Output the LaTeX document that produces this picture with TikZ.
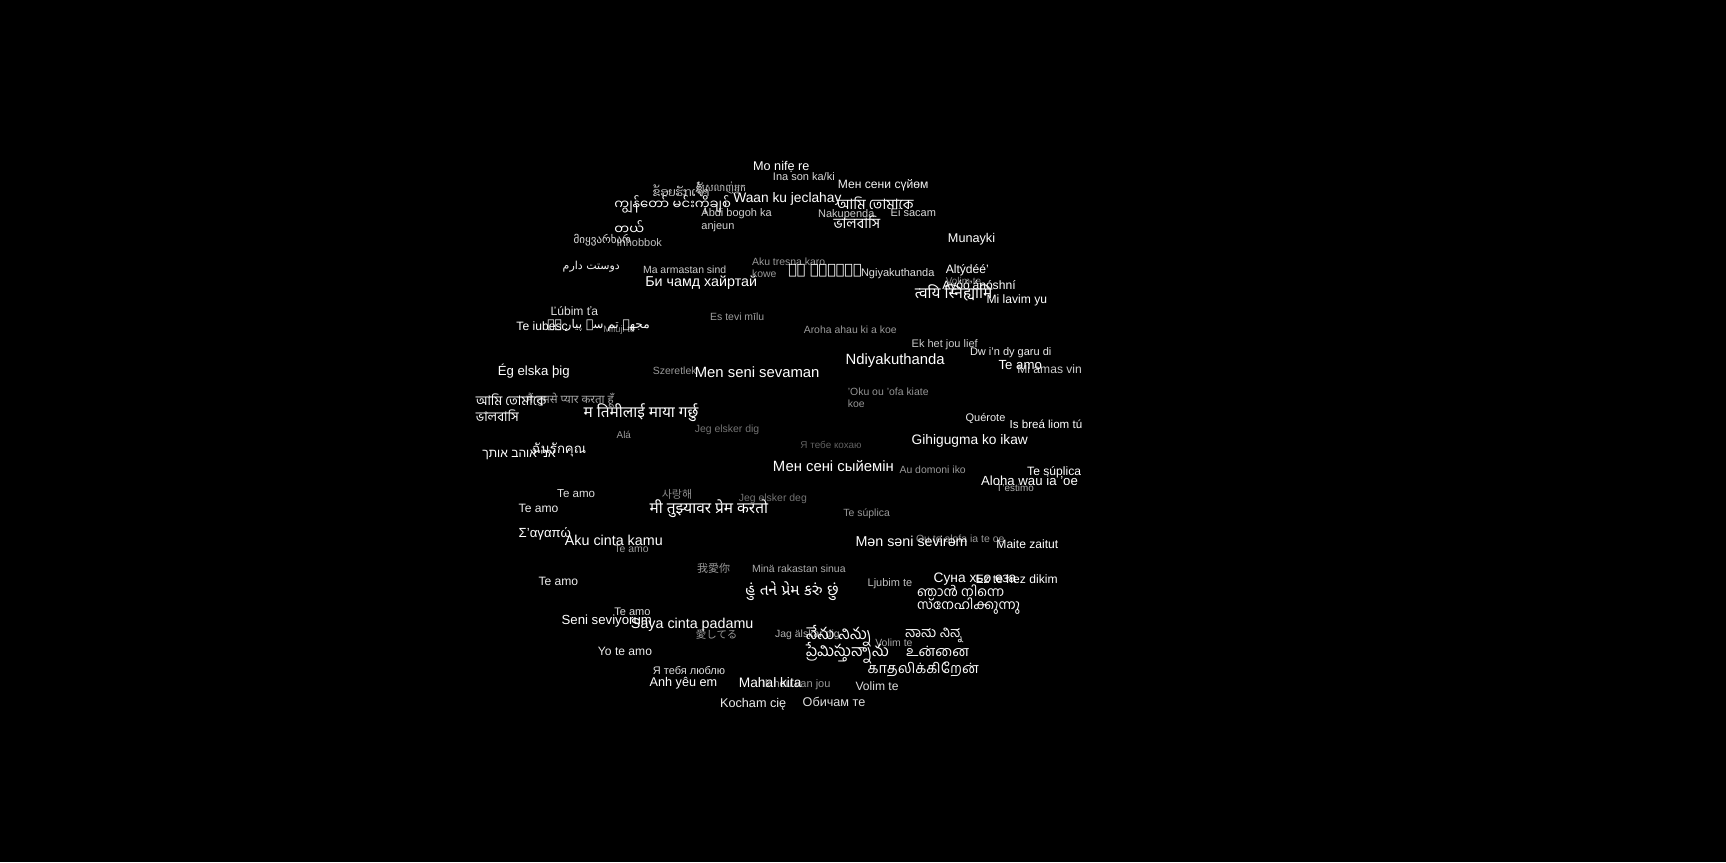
\documentclass[tikz,border=0pt]{standalone}
\usepackage{fontspec}
\setmainfont{Liberation Sans}
\newfontfamily\fBeng[Script=Bengali]{Hind Siliguri}
\newfontfamily\fDeva[Script=Devanagari]{Noto Sans}
\newfontfamily\fGujr[Script=Gujarati]{Noto Sans Gujarati UI}
\newfontfamily\fTaml[Script=Tamil]{Hind Madurai}
\newfontfamily\fTelu[Script=Telugu]{Hind Guntur}
\newfontfamily\fKnda[Script=Kannada]{Hind Mysuru}
\newfontfamily\fMlym[Script=Malayalam]{Hind Kochi}
\newfontfamily\fThai[Script=Thai]{Loma}
\newfontfamily\fLaoo[Script=Lao]{Dhyana}
\newfontfamily\fKhmr[Script=Khmer]{Battambang}
\newfontfamily\fMymr[Script=Myanmar]{Noto Sans Myanmar UI}
\newfontfamily\fHebr[Script=Hebrew]{Liberation Sans}
\newfontfamily\fArab[Script=Arabic]{DejaVu Sans}
\newfontfamily\fGeor{DejaVu Sans}
\newfontfamily\fCJK{Noto Sans CJK SC}
\newfontfamily\fEthi{DejaVu Sans}
\TeXXeTstate=1
\newcommand\wsz[1]{\fontsize{#1}{#1}\selectfont}
\tikzset{wd/.style 2 args={anchor=west,inner sep=0pt,text=white!#1!black,font=\wsz{#2}}}

\begin{document}
\begin{tikzpicture}[x=1pt,y=-1pt,scale=1.1008,every node/.append style={transform shape}]
  \useasboundingbox (0,0) rectangle (1568,783.1);
  \fill[black] (0,0) rectangle (1568,783.1);
  % faint words underneath
  \node[wd={80}{9}] (km) at (632,172) {\fKhmr ខ្ញុំស្រលាញ់អ្នក};
  \node[wd={75}{10}] (mt) at (560,220) {Inħobbok};
  \node[wd={55}{9}] (bs) at (859,255) {Volim te};
  \node[wd={55}{8.5}] (cs) at (548,300) {Miluji tě};
  \node[wd={80}{11}] (eo) at (924,335) {Mi amas vin};
  \node[wd={65}{10.5}] (hi) at (478,364) {\fDeva मैं तुमसे प्यार करता हूँ};
  \node[wd={70}{9}] (ca) at (905,443) {T'estimo};
  \node[wd={60}{9.5}] (sm) at (832,489) {Ou te alofa ia te oe};
  \node[wd={60}{10}] (nl) at (692,622) {Ik hou van jou};
  \node[wd={60}{9.5}] (ja) at (632,576) {\fCJK 愛してる};
  \node[wd={70}{9.5}] (sv) at (704,577) {Jag älskar dig};
  \node[wd={65}{9.5}] (hr) at (795,584) {Volim te};
  % top
  \node[wd={100}{11.5}] (yo) at (684,152) {Mo nifẹ re};
  \node[wd={85}{10}] (ha) at (702,160) {Ina son ka/ki};
  \node[wd={95}{11}] (ky) at (761,168) {Мен сени сүйөм};
  \node[wd={90}{10.5}] (lo) at (593,172) {\fLaoo ຂ້ອຍຮັກເຈົ້າ};
  \node[wd={100}{12}] (my1) at (558,186) {\fMymr ကျွန်တော် မင်းကိုချစ်};
  \node[wd={100}{12}] (my2) at (558,207) {\fMymr တယ်};
  \node[wd={100}{12.5}] (so) at (666,181) {Waan ku jeclahay};
  \node[wd={80}{10}] (sw) at (743,195) {Nakupenda};
  \node[wd={85}{10}] (mk) at (809,193) {Ei sacam};
  \node[wd={100}{13}] (bn1) at (760,185) {\fBeng আমি তোমাকে};
  \node[wd={100}{13}] (bn2) at (757,202) {\fBeng ভালবাসি};
  \node[wd={82}{10}] (su1) at (637,194) {Abdi bogoh ka};
  \node[wd={82}{10}] (su2) at (637,206) {anjeun};
  \node[wd={88}{10}] (ka) at (521,218) {\fGeor მიყვარხარ};
  \node[wd={100}{11.5}] (qu) at (861,217) {Munayki};
  \node[wd={95}{10}] (fa) at (511,242) {\fArab\beginR دوستت دارم\endR};
  % upper middle
  \node[wd={80}{9.5}] (et) at (584,245) {Ma armastan sind};
  \node[wd={100}{13}] (mn) at (586,257) {Би чамд хайртай};
  \node[wd={60}{9.5}] (jv1) at (683,238) {Aku tresna karo};
  \node[wd={60}{9.5}] (jv2) at (683,249) {kowe};
  \node[wd={100}{13}] (am) at (716,246) {\fEthi እኔ እወድሃለሁ};
  \node[wd={88}{10}] (zu) at (782,249) {Ngiyakuthanda};
  \node[wd={100}{11}] (ch) at (859,246) {Altýdéé'};
  \node[wd={100}{11}] (nv) at (856,260) {Ayóó'ánóshní};
  \node[wd={100}{14}] (sa) at (831,266) {\fDeva त्वयि स्निह्यामि};
  \node[wd={100}{11}] (tp) at (896,273) {Mi lavim yu};
  \node[wd={88}{11}] (sk) at (500,283) {Ľúbim ťa};
  \node[wd={100}{11}] (ro) at (469,296) {Te iubesc};
  \node[wd={100}{11}] (ur) at (497,296) {\fArab\beginR مجھے تم سے پیار ہے\endR};
  \node[wd={62}{9.5}] (lv) at (645,288) {Es tevi mīlu};
  \node[wd={60}{9.5}] (mi) at (730,300) {Aroha ahau ki a koe};
  % middle
  \node[wd={80}{10}] (af) at (828,313) {Ek het jou lief};
  \node[wd={93}{10}] (cy) at (881,320) {Dw i'n dy garu di};
  \node[wd={100}{13.5}] (xh) at (768,328) {Ndiyakuthanda};
  \node[wd={100}{12}] (es) at (907,332) {Te amo};
  \node[wd={100}{12}] (is) at (452,337) {Ég elska þig};
  \node[wd={60}{9.5}] (hu) at (593,337) {Szeretlek};
  \node[wd={100}{13.5}] (uz) at (631,338) {Men seni sevaman};
  \node[wd={58}{9.5}] (to1) at (770,356) {'Oku ou 'ofa kiate};
  \node[wd={58}{9.5}] (to2) at (770,367) {koe};
  \node[wd={100}{12}] (bl1) at (432,363) {\fBeng আমি তোমাকে};
  \node[wd={100}{12}] (bl2) at (432,378) {\fBeng ভালবাসি};
  \node[wd={100}{14}] (ne) at (530,375) {\fDeva म तिमीलाई माया गर्छु};
  \node[wd={93}{10}] (gl) at (877,380) {Quérote};
  \node[wd={100}{10.5}] (ga) at (917,385) {Is breá liom tú};
  \node[wd={60}{9}] (yu) at (560,395) {Alá};
  \node[wd={45}{9.5}] (da) at (631,390) {Jeg elsker dig};
  \node[wd={100}{12.5}] (ceb) at (828,401) {Gihigugma ko ikaw};
  \node[wd={38}{9}] (uk) at (727,404) {Я тебе кохаю};
  \node[wd={100}{11}] (he) at (438,413) {\fHebr\beginR אני אוהב אותך\endR};
  \node[wd={100}{12}] (th) at (483,409) {\fThai ฉันรักคุณ};
  \node[wd={100}{13.5}] (kk) at (702,423) {Мен сені сыйемін};
  \node[wd={60}{9.5}] (fj) at (817,427) {Au domoni iko};
  \node[wd={100}{11}] (la) at (933,429) {Te súplica};
  \node[wd={100}{12}] (haw) at (891,437) {Aloha wau ia 'oe};
  % lower middle
  \foreach \x/\y/\g/\s in {506/448/87/10.5, 471/462/93/11, 558/499/60/9.5,
    489/528/93/11, 558/556/87/10}
    \node[wd={\g}{\s}] (amo\x\y) at (\x,\y) {Te amo};
  \node[wd={55}{10}] (ko) at (601,449) {\fCJK 사랑해};
  \node[wd={100}{14}] (mr) at (590,462) {\fDeva मी तुझ्यावर प्रेम करतो};
  \node[wd={45}{9.5}] (no) at (671,453) {Jeg elsker deg};
  \node[wd={60}{9.5}] (sup) at (766,467) {Te súplica};
  \node[wd={100}{12}] (el) at (471,485) {Σ'αγαπώ};
  \node[wd={100}{13}] (id) at (513,491) {Aku cinta kamu};
  \node[wd={100}{13}] (az) at (777,492) {Mən səni sevirəm};
  \node[wd={100}{11}] (eu) at (905,494) {Maite zaitut};
  \node[wd={60}{10}] (zh) at (633,516) {\fCJK 我愛你};
  \node[wd={68}{9.5}] (fi) at (683,517) {Minä rakastan sinua};
  \node[wd={75}{10}] (sl) at (788,530) {Ljubim te};
  \node[wd={100}{12.5}] (ce) at (848,526) {Суна хьо еза};
  \node[wd={100}{11}] (kmr) at (886,526) {Ez te hez dikim};
  \node[wd={100}{12}] (ml1) at (833,537) {\fMlym ഞാൻ നിന്നെ};
  \node[wd={100}{12}] (ml2) at (833,551) {\fMlym സ്നേഹിക്കുന്നു};
  \node[wd={100}{14}] (gu) at (677,537) {\fGujr હું તને પ્રેમ કરું છું};
  % bottom
  \node[wd={100}{12}] (tr) at (510,564) {Seni seviyorum};
  \node[wd={100}{13}] (ms) at (573,568) {Saya cinta padamu};
  \node[wd={100}{14.5}] (te1) at (732,578) {\fTelu నేను నిన్ను};
  \node[wd={100}{14.5}] (te2) at (732,593) {\fTelu ప్రేమిస్తున్నాను};
  \node[wd={100}{13}] (kn) at (822,577) {\fKnda ನಾನು ನಿನ್ನ};
  \node[wd={100}{13}] (ta1) at (823,592) {\fTaml உன்னை};
  \node[wd={100}{13}] (ta2) at (788,608) {\fTaml காதலிக்கிறேன்};
  \node[wd={93}{11}] (esm) at (543,592) {Yo te amo};
  \node[wd={87}{10}] (ru) at (593,609) {Я тебя люблю};
  \node[wd={100}{11.5}] (vi) at (590,621) {Anh yêu em};
  \node[wd={100}{12.5}] (tl) at (671,620) {Mahal kita};
  \node[wd={87}{11}] (sr) at (777,623) {Volim te};
  \node[wd={93}{11.5}] (pl) at (654,640) {Kocham cię};
  \node[wd={87}{11.5}] (bg) at (729,638) {Обичам те};
\end{tikzpicture}
\end{document}
